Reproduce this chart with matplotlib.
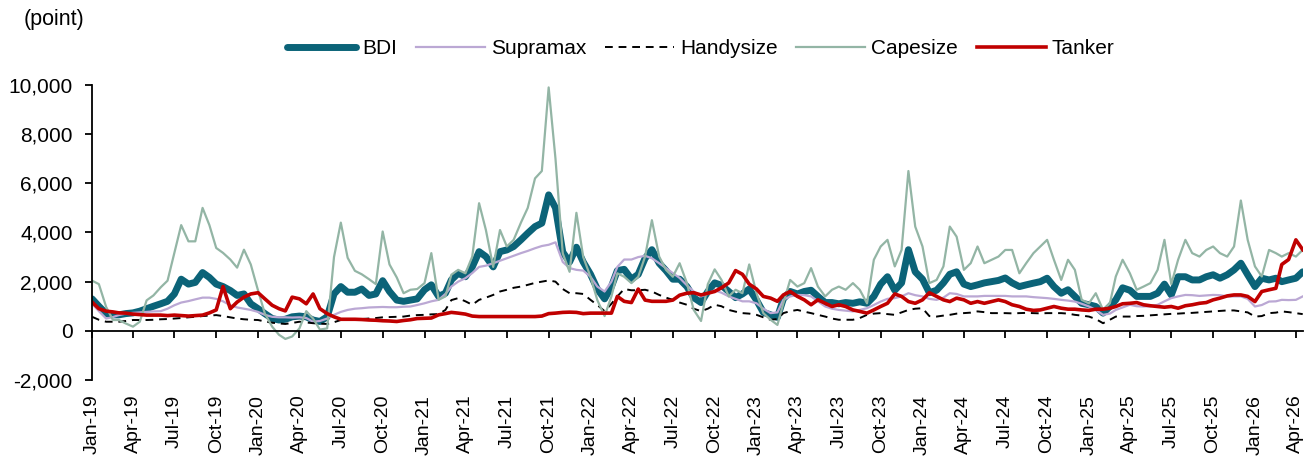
import matplotlib
matplotlib.use("Agg")
import matplotlib.pyplot as plt
import matplotlib.dates as mdates
import pandas as pd

plt.rcParams['font.family'] = ['Liberation Sans', 'DejaVu Sans']

# semi-monthly observation dates (1st and 16th of each month), Jan-2019 .. Apr-2026
months = pd.date_range('2019-01-01', '2026-04-01', freq='MS')
dates = []
for m in months:
    dates.append(m)
    dates.append(m + pd.Timedelta(days=15))

bdi = [
    1300, 1000, 700, 650, 650, 700, 730, 800, 900, 1000, 1100, 1200, 1500, 2100, 1900, 1970, 2370, 2170, 1900, 1800, 1640, 1440, 1500, 1100,
    900, 700, 500, 440, 470, 570, 600, 570, 440, 380, 570, 1500, 1800, 1570, 1570, 1700, 1440, 1500, 2040, 1600, 1250, 1200, 1250, 1300,
    1670, 1870, 1400, 1530, 2070, 2340, 2200, 2600, 3220, 3020, 2600, 3220, 3290, 3430, 3700, 3970, 4240, 4380, 5530, 5000, 3200, 2800, 3400, 2800,
    2300, 1700, 1300, 1800, 2450, 2500, 2100, 2300, 2950, 3300, 2750, 2450, 2100, 2100, 1800, 1350, 1150, 1600, 1950, 1850, 1600, 1350, 1500, 1700,
    1250, 750, 650, 550, 1300, 1600, 1500, 1600, 1650, 1400, 1150, 1150, 1100, 1150, 1120, 1180, 1120, 1400, 1900, 2200, 1650, 1950, 3300, 2400,
    2100, 1550, 1650, 1950, 2300, 2400, 1900, 1800, 1870, 1950, 2000, 2050, 2150, 1950, 1800, 1870, 1940, 2000, 2140, 1800, 1530, 1670, 1400, 1120,
    1060, 990, 720, 990, 1260, 1750, 1650, 1400, 1400, 1400, 1530, 1900, 1460, 2200, 2200, 2070, 2070, 2200, 2280, 2140, 2280, 2480, 2750, 2280,
    1800, 2140, 2070, 2140, 2000, 2070, 2140, 2400,
]

supramax = [
    1100, 800, 500, 560, 640, 700, 730, 750, 770, 790, 800, 900, 1040, 1150, 1210, 1280, 1350, 1350, 1300, 1200, 1040, 950, 900, 850,
    770, 650, 570, 550, 550, 540, 550, 520, 370, 400, 500, 650, 770, 850, 900, 920, 950, 960, 970, 960, 960, 980, 990, 1050,
    1120, 1200, 1260, 1500, 1800, 2000, 2140, 2350, 2600, 2650, 2750, 2850, 2950, 3050, 3160, 3250, 3360, 3450, 3500, 3600, 2800, 2550, 2480, 2450,
    2200, 1800, 1600, 2000, 2600, 2900, 2900, 3000, 3050, 2950, 2750, 2550, 2350, 2150, 1850, 1600, 1400, 1500, 1650, 1550, 1400, 1300, 1200, 1200,
    1120, 900, 720, 750, 1260, 1400, 1460, 1450, 1400, 1200, 990, 900, 850, 820, 790, 850, 920, 1050, 1190, 1300, 1330, 1400, 1530, 1450,
    1400, 1300, 1260, 1350, 1530, 1500, 1400, 1400, 1400, 1420, 1420, 1420, 1420, 1400, 1400, 1400, 1370, 1350, 1330, 1300, 1260, 1230, 1190, 1100,
    990, 850, 650, 700, 850, 950, 1060, 1000, 990, 1000, 1060, 1200, 1330, 1400, 1460, 1450, 1420, 1440, 1460, 1450, 1400, 1400, 1400, 1300,
    990, 1050, 1190, 1200, 1260, 1250, 1260, 1400,
]

handysize = [
    570, 450, 370, 370, 370, 400, 440, 440, 440, 450, 470, 480, 500, 520, 550, 570, 600, 620, 640, 600, 550, 500, 470, 450,
    440, 380, 330, 300, 280, 320, 370, 340, 310, 290, 280, 350, 440, 460, 470, 480, 500, 520, 550, 560, 570, 580, 620, 640,
    650, 670, 680, 850, 1250, 1330, 1200, 1060, 1260, 1350, 1460, 1600, 1670, 1750, 1800, 1870, 1950, 2000, 2050, 2000, 1700, 1530, 1530, 1500,
    1260, 1050, 800, 1100, 1400, 1700, 1650, 1650, 1670, 1600, 1460, 1350, 1260, 1150, 1060, 900, 800, 900, 1060, 1000, 850, 780, 720, 700,
    650, 550, 450, 480, 720, 800, 850, 780, 720, 650, 580, 500, 450, 450, 450, 520, 650, 700, 720, 680, 650, 750, 850, 900,
    920, 600, 580, 620, 650, 700, 720, 740, 790, 760, 720, 720, 720, 710, 720, 730, 720, 710, 720, 720, 720, 700, 650, 620,
    580, 480, 310, 450, 580, 580, 580, 600, 610, 630, 650, 670, 690, 700, 720, 730, 750, 770, 790, 810, 830, 830, 790, 750,
    580, 600, 720, 740, 790, 760, 720, 680,
]

capesize = [
    2040, 1900, 970, 440, 440, 300, 170, 370, 1240, 1440, 1770, 2040, 3170, 4300, 3640, 3640, 5000, 4300, 3370, 3170, 2900, 2570, 3300, 2700,
    1640, 700, 170, -160, -330, -230, 100, 800, 500, 50, 100, 3000, 4400, 2970, 2440, 2300, 2100, 1900, 4040, 2700, 2170, 1530, 1670, 1700,
    1940, 3160, 1260, 1400, 2280, 2480, 2340, 3020, 5190, 4100, 2600, 4100, 3430, 3700, 4400, 5000, 6200, 6500, 9900, 7000, 3150, 2400, 4800, 3000,
    2200, 1250, 600, 1400, 2340, 2200, 1940, 2200, 3020, 4500, 3020, 2480, 2200, 2750, 1940, 850, 400, 1900, 2500, 2070, 1400, 1670, 1530, 2700,
    1530, 720, 450, 240, 1120, 2070, 1800, 1940, 2550, 1800, 1400, 1670, 1800, 1670, 1940, 1670, 1120, 2890, 3430, 3700, 2620, 3290, 6500, 4240,
    3430, 1940, 2070, 2620, 4240, 3830, 2480, 2750, 3430, 2750, 2890, 3020, 3290, 3290, 2340, 2750, 3160, 3430, 3700, 2890, 2070, 2890, 2480, 1260,
    1120, 1530, 850, 1120, 2210, 2890, 2340, 1670, 1800, 1940, 2480, 3700, 1900, 2890, 3700, 3160, 3020, 3290, 3430, 3160, 3020, 3430, 5300, 3700,
    2620, 2210, 3290, 3160, 3020, 3160, 3020, 3290,
]

tanker = [
    1170, 900, 800, 770, 730, 720, 680, 660, 640, 640, 640, 620, 640, 620, 600, 620, 640, 730, 850, 1800, 900, 1170, 1370, 1500,
    1550, 1300, 1040, 900, 810, 1370, 1300, 1100, 1500, 900, 700, 570, 470, 470, 470, 460, 440, 430, 410, 400, 380, 420, 450, 500,
    510, 520, 650, 700, 750, 720, 680, 600, 580, 580, 580, 580, 580, 580, 580, 580, 580, 600, 700, 720, 750, 760, 750, 700,
    720, 720, 720, 720, 1400, 1200, 1150, 1700, 1250, 1200, 1200, 1200, 1250, 1450, 1530, 1550, 1460, 1530, 1600, 1750, 1950, 2450, 2300, 1900,
    1700, 1400, 1330, 1200, 1460, 1600, 1400, 1260, 1060, 1260, 1120, 990, 1060, 990, 850, 790, 720, 850, 990, 1120, 1500, 1400, 1190, 1120,
    1260, 1550, 1400, 1260, 1190, 1330, 1260, 1120, 1190, 1120, 1190, 1260, 1190, 1060, 990, 880, 830, 850, 920, 990, 920, 880, 880, 850,
    830, 880, 880, 920, 990, 1100, 1120, 1150, 1060, 1020, 990, 960, 990, 920, 1020, 1060, 1120, 1150, 1260, 1330, 1420, 1460, 1460, 1400,
    1190, 1600, 1670, 1730, 2700, 2900, 3700, 3300,
]

fig = plt.figure(figsize=(13.15, 4.61), dpi=100)
ax = fig.add_axes([0.070, 0.1757, 0.921, 0.640])

ax.plot(dates, bdi, color='#0B6378', lw=5.0, solid_capstyle='round', label='BDI')
ax.plot(dates, supramax, color='#BBA8D4', lw=1.6, label='Supramax')
ax.plot(dates, handysize, color='black', lw=1.4, dashes=(4, 3), label='Handysize')
ax.plot(dates, capesize, color='#93B5A5', lw=1.6, label='Capesize')
ax.plot(dates, tanker, color='#C00000', lw=2.6, label='Tanker')

ax.set_ylim(-2000, 10000)
ax.set_yticks(range(-2000, 10001, 2000))
ax.yaxis.set_major_formatter(matplotlib.ticker.FuncFormatter(lambda v, p: f'{int(v):,}'))
ax.set_xlim(pd.Timestamp('2019-01-01'), pd.Timestamp('2026-04-17'))
ax.xaxis.set_major_locator(mdates.MonthLocator(bymonth=[1, 4, 7, 10]))
ax.xaxis.set_major_formatter(mdates.DateFormatter('%b-%y'))

for s in ['top', 'right']:
    ax.spines[s].set_visible(False)
ax.spines['bottom'].set_position(('data', 0))
ax.spines['bottom'].set_linewidth(1.3)
ax.spines['left'].set_linewidth(1.3)

ax.tick_params(axis='y', direction='out', length=5, width=1.3, pad=9, labelsize=15)
ax.tick_params(axis='x', direction='out', length=5, width=1.3, pad=41, labelsize=14, labelrotation=90)

fig.text(0.018, 0.958, '(point)', fontsize=15.5, ha='left', va='center')

leg = fig.legend(loc='center', bbox_to_anchor=(0.533, 0.894), ncol=5, frameon=False,
                 fontsize=15, handlelength=3.3, handletextpad=0.3, columnspacing=0.9)

fig.savefig('out.png', dpi=100)
